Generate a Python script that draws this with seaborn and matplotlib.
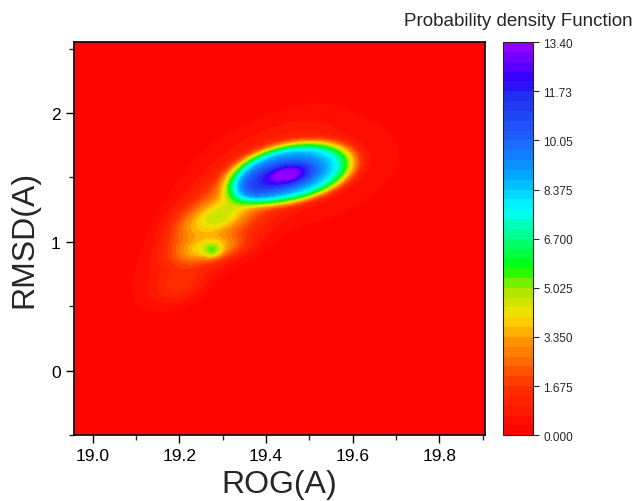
import numpy as np
import matplotlib
matplotlib.use("Agg")
import matplotlib.pyplot as plt
from matplotlib.colors import LinearSegmentedColormap
import seaborn as sns

# ---- data (density modelled as blobs) ----
# blob centres (ROG in A, RMSD in A)
blob_rog = [19.458, 19.452, 19.462, 19.305, 19.277, 19.272, 19.290, 19.285, 19.225, 19.200, 19.345]
blob_rmsd = [1.535, 1.523, 1.55, 1.19, 0.93, 0.945, 1.18, 1.24, 1.12, 0.66, 1.36]
# spread along / across the blob axis (in display-pixel scale units)
blob_major = [56, 17, 72, 64, 6, 24, 16, 30, 20, 18, 20]
blob_minor = [25, 7, 36, 22, 5, 8, 9, 16, 13, 11, 12]
blob_angle = [12, 12, 12, 44, 0, 10, 10, 35, 30, 20, 30]     # degrees
blob_amp = [7.6, 4.4, 1.0, 1.9, 1.5, 2.3, 1.1, 0.8, 1.1, 0.9, 1.2]
blob_power = [6, 2, 2, 2, 2, 2, 2, 2, 2, 2, 2]

# colour scale
cbar_ticks = [0.0, 1.675, 3.35, 5.025, 6.7, 8.375, 10.05, 11.73, 13.4]
cbar_labels = ["0.000", "1.675", "3.350", "5.025", "6.700", "8.375", "10.05", "11.73", "13.40"]
x_ticks = [19.0, 19.2, 19.4, 19.6, 19.8]
y_ticks = [0, 1, 2]

sns.set_style("ticks")
plt.rcParams["font.family"] = ["Liberation Sans", "DejaVu Sans"]

xmin, xmax = 18.956, 19.906
ymin, ymax = -0.5, 2.55
SX, SY = 432.0, 128.0   # data -> display scale

gx = np.linspace(xmin, xmax, 500)
gy = np.linspace(ymin, ymax, 500)
X, Y = np.meshgrid(gx, gy)
Z = np.zeros_like(X)
for cx, cy, a, b, ang, amp, p in zip(blob_rog, blob_rmsd, blob_major, blob_minor,
                                     blob_angle, blob_amp, blob_power):
    dx = (X - cx) * SX
    dy = (Y - cy) * SY
    t = np.deg2rad(ang)
    u = dx * np.cos(t) + dy * np.sin(t)
    v = -dx * np.sin(t) + dy * np.cos(t)
    r = np.sqrt((u / a) ** 2 + (v / b) ** 2)
    Z += amp * np.exp(-0.5 * r ** p)
Z = np.clip(Z, 0, 13.399)

cmap = LinearSegmentedColormap.from_list("pdf", [
    (0.0, "#FF0000"), (0.12, "#FF3000"), (0.25, "#FFA000"), (0.30, "#FFE000"),
    (0.375, "#A0E800"), (0.425, "#00FF00"), (0.50, "#00FF80"), (0.575, "#00FFFF"),
    (0.67, "#00A0FF"), (0.75, "#1E64FF"), (0.86, "#2030F0"), (0.91, "#3000FF"),
    (1.0, "#A000FF")])

fig = plt.figure(figsize=(6.36, 5.02), dpi=100)
ax = fig.add_axes([0.116, 0.131, 0.647, 0.783])
ax.set_facecolor("#FF0000")
levels = np.linspace(0, 13.4, 41)
cf = ax.contourf(X, Y, Z, levels=levels, cmap=cmap, vmin=0, vmax=13.4)

ax.set_xlim(xmin, xmax)
ax.set_ylim(ymin, ymax)
ax.set_xticks(x_ticks)
ax.set_xticklabels([f"{v:.1f}" for v in x_ticks])
ax.set_yticks(y_ticks)
ax.set_xticks([19.1, 19.3, 19.5, 19.7, 19.9], minor=True)
ax.set_yticks([-0.5, 0.5, 1.5, 2.5], minor=True)
ax.tick_params(axis="both", which="major", direction="out", length=6, width=1,
               labelsize=12.5, colors="black")
ax.tick_params(axis="both", which="minor", direction="out", length=3.5, width=1)
for s in ax.spines.values():
    s.set_visible(True)
    s.set_color("black")
    s.set_linewidth(1.2)
ax.set_xlabel("ROG(A)", fontsize=23, labelpad=4)
ax.set_ylabel("RMSD(A)", fontsize=23, labelpad=8)

cax = fig.add_axes([0.791, 0.131, 0.047, 0.783])
cb = fig.colorbar(cf, cax=cax)
cb.set_ticks(cbar_ticks)
cb.set_ticklabels(cbar_labels)
cb.ax.tick_params(labelsize=8.5, length=4, width=0.8, direction="out")
cb.outline.set_linewidth(0.8)
fig.text(0.994, 0.94, "Probability density Function", ha="right", va="bottom",
         fontsize=13.5)

fig.savefig("out.png", dpi=100)
